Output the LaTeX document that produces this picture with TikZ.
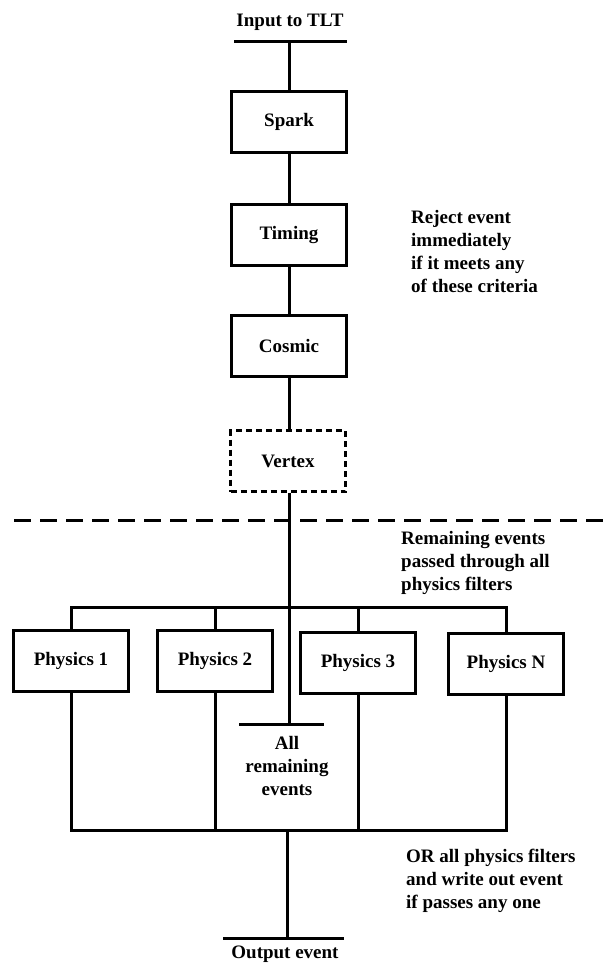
\documentclass[tikz,border=0pt]{standalone}
\usepackage{fontspec}
\setmainfont{Liberation Serif}
\usepackage{tikz}

\tikzset{
  filterbox/.style={draw, line width=2.2pt, minimum width=115, minimum height=61, inner sep=0pt,
    font=\fontsize{19}{23}\selectfont\bfseries},
  wire/.style={line width=3pt},
  txt/.style={font=\fontsize{19}{23}\selectfont\bfseries, inner sep=0pt}
}

\begin{document}
\begin{tikzpicture}[x=1pt,y=-1pt]
                \useasboundingbox (0,0) rectangle (607,964);
                % input
                \node[txt] (intext) at (290,22) {Input to TLT};
                \coordinate (inL) at (234,41);
                \coordinate (inR) at (347,41);
                \coordinate (in) at (289,41);
                \draw[wire] (inL) -- (inR);
                % rejection filters
                \node[filterbox] (spark) at (289,122) {Spark};
                \node[filterbox] (timing) at (289,235) {Timing};
                \node[filterbox] (cosmic) at (289,346) {Cosmic};
                \node[filterbox, dash pattern=on 6pt off 4pt] (vertex) at (288,461) {Vertex};
                \draw[wire] (in) -- (spark.north);
                \draw[wire] (spark) -- (timing);
                \draw[wire] (timing) -- (cosmic);
                \draw[wire] (cosmic.south) -- (cosmic.south |- vertex.north);
                \node[txt, align=left, anchor=west] (reject) at (411,251) {Reject event\\immediately\\if it meets any\\of these criteria};
                % separator
                \coordinate (sepL) at (14,520);
                \coordinate (sepR) at (607,520);
                \draw[wire, dash pattern=on 17pt off 9pt] (sepL) -- (sepR);
                \node[txt, align=left, anchor=west] (remain) at (401,563) {Remaining events\\passed through all\\physics filters};
                % physics filters
                \node[filterbox] (phys1) at (71,661) {Physics 1};
                \node[filterbox] (phys2) at (215,661) {Physics 2};
                \node[filterbox] (phys3) at (358,663) {Physics 3};
                \node[filterbox] (physN) at (506,664) {Physics N};
                \coordinate (busT) at (289,607);
                \coordinate (busB) at (287,830);
                \draw[wire] (phys1.north) |- (busT) -| (physN.north);
                \draw[wire] (phys2.north) -- (phys2.north |- busT);
                \draw[wire] (phys3.north) -- (phys3.north |- busT);
                \draw[wire] (phys1.south) |- (busB) -| (physN.south);
                \draw[wire] (phys2.south) -- (phys2.south |- busB);
                \draw[wire] (phys3.south) -- (phys3.south |- busB);
                % bypass
                \coordinate (allL) at (239,724);
                \coordinate (allR) at (324,724);
                \draw[wire] (cosmic.south |- vertex.south) -- (cosmic.south |- allL);
                \draw[wire] (allL) -- (allR);
                \node[txt, align=center] (alltext) at (287,766) {All\\remaining\\events};
                % output
                \coordinate (outL) at (223,938);
                \coordinate (outR) at (344,938);
                \draw[wire] (busB) -- (busB |- outL);
                \draw[wire] (outL) -- (outR);
                \node[txt] (outtext) at (285,954) {Output event};
                \node[txt, align=left, anchor=west] (ortext) at (406,881) {OR all physics filters\\and write out event\\if passes any one};
            \end{tikzpicture}
\end{document}
